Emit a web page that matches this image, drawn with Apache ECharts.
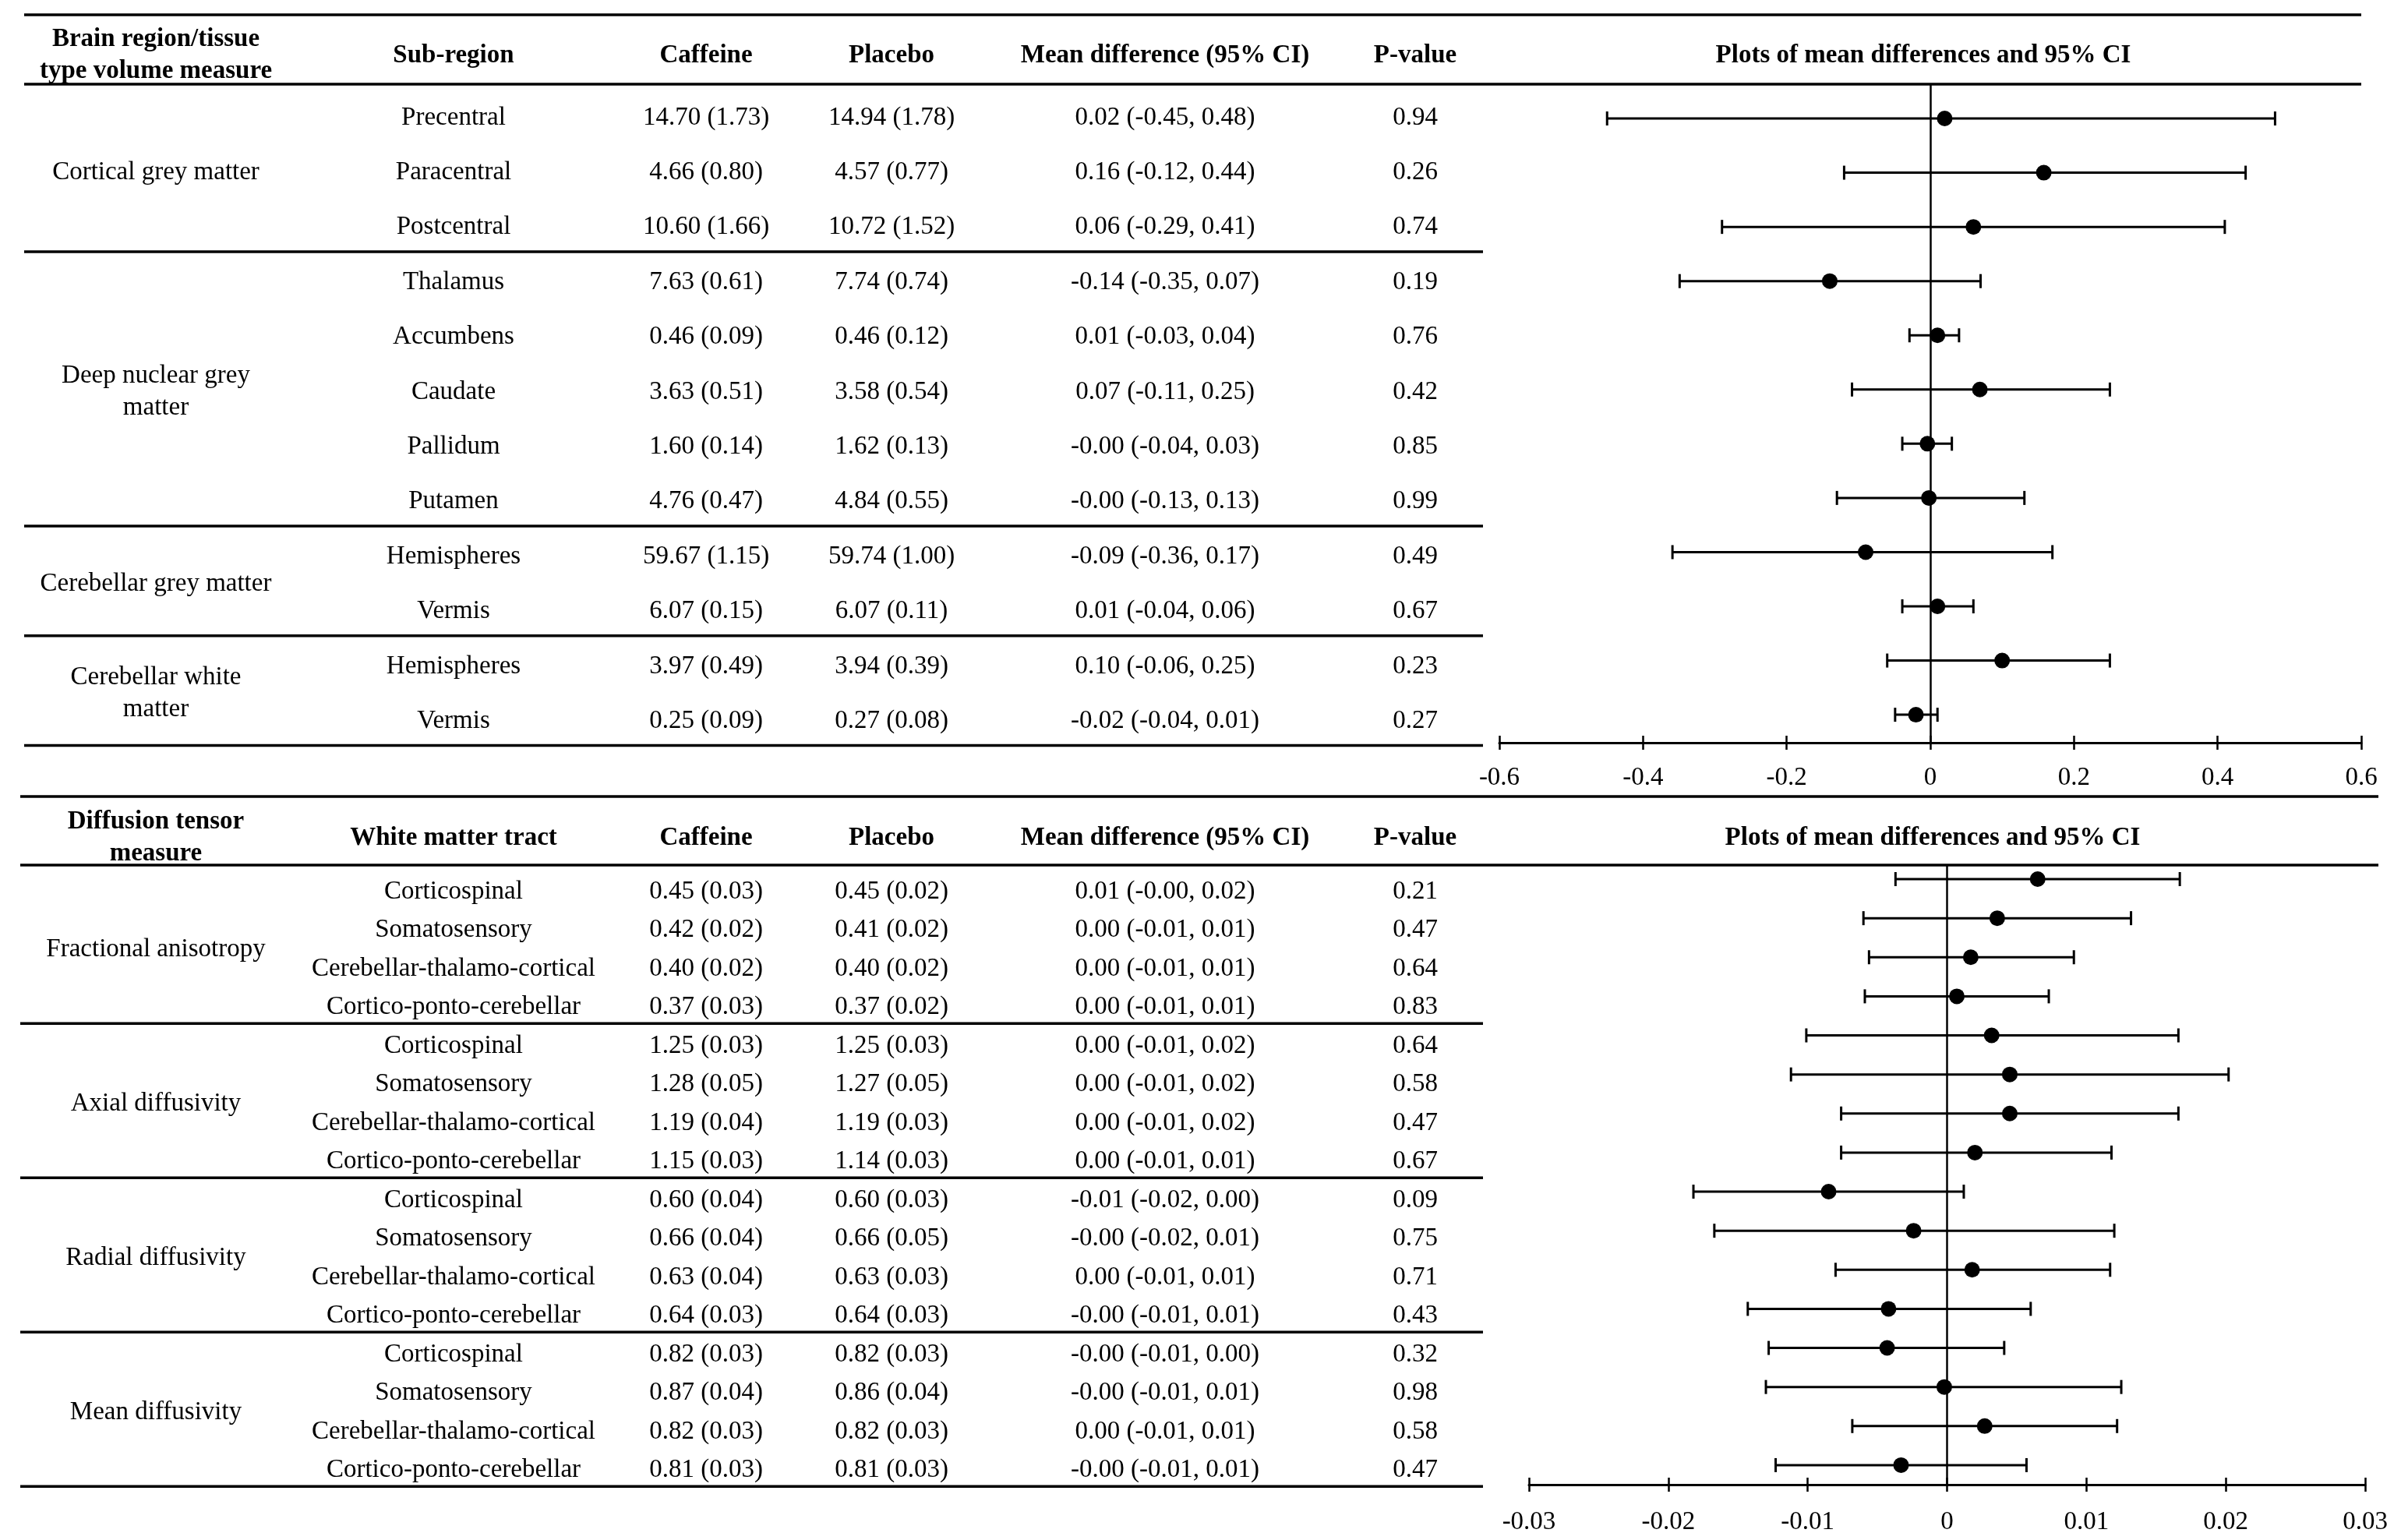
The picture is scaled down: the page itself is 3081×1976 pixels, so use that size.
<!DOCTYPE html>
<html>
<head>
<meta charset="utf-8">
<script src="https://cdn.jsdelivr.net/npm/echarts@6.0.0/dist/echarts.min.js"></script>
<style>
html,body{margin:0;padding:0;background:#ffffff;}
#c{width:3081px;height:1976px;}
</style>
</head>
<body>
<div id="c"></div>
<script>
// ---------------- Panel 1: brain volumes ----------------
const volHeader = ["Brain region/tissue\ntype volume measure", "Sub-region", "Caffeine", "Placebo", "Mean difference (95% CI)", "P-value"];
const volGroups = [
  { label: "Cortical grey matter", from: 0, to: 2 },
  { label: "Deep nuclear grey\nmatter", from: 3, to: 7 },
  { label: "Cerebellar grey matter", from: 8, to: 9 },
  { label: "Cerebellar white\nmatter", from: 10, to: 11 }
];
const volSub = ["Precentral", "Paracentral", "Postcentral", "Thalamus", "Accumbens", "Caudate", "Pallidum", "Putamen", "Hemispheres", "Vermis", "Hemispheres", "Vermis"];
const volCaffeine = ["14.70 (1.73)", "4.66 (0.80)", "10.60 (1.66)", "7.63 (0.61)", "0.46 (0.09)", "3.63 (0.51)", "1.60 (0.14)", "4.76 (0.47)", "59.67 (1.15)", "6.07 (0.15)", "3.97 (0.49)", "0.25 (0.09)"];
const volPlacebo = ["14.94 (1.78)", "4.57 (0.77)", "10.72 (1.52)", "7.74 (0.74)", "0.46 (0.12)", "3.58 (0.54)", "1.62 (0.13)", "4.84 (0.55)", "59.74 (1.00)", "6.07 (0.11)", "3.94 (0.39)", "0.27 (0.08)"];
const volMeanText = ["0.02 (-0.45, 0.48)", "0.16 (-0.12, 0.44)", "0.06 (-0.29, 0.41)", "-0.14 (-0.35, 0.07)", "0.01 (-0.03, 0.04)", "0.07 (-0.11, 0.25)", "-0.00 (-0.04, 0.03)", "-0.00 (-0.13, 0.13)", "-0.09 (-0.36, 0.17)", "0.01 (-0.04, 0.06)", "0.10 (-0.06, 0.25)", "-0.02 (-0.04, 0.01)"];
const volP = ["0.94", "0.26", "0.74", "0.19", "0.76", "0.42", "0.85", "0.99", "0.49", "0.67", "0.23", "0.27"];
// plotted values
const volMD = [0.02, 0.158, 0.06, -0.14, 0.01, 0.069, -0.004, -0.002, -0.09, 0.01, 0.10, -0.02];
const volLo = [-0.45, -0.12, -0.29, -0.349, -0.029, -0.109, -0.039, -0.13, -0.359, -0.039, -0.06, -0.049];
const volHi = [0.48, 0.439, 0.41, 0.07, 0.04, 0.25, 0.03, 0.131, 0.17, 0.06, 0.25, 0.01];
const volTicks = ["-0.6", "-0.4", "-0.2", "0", "0.2", "0.4", "0.6"];

// ---------------- Panel 2: diffusion tensor ----------------
const dtiHeader = ["Diffusion tensor\nmeasure", "White matter tract", "Caffeine", "Placebo", "Mean difference (95% CI)", "P-value"];
const dtiGroups = [
  { label: "Fractional anisotropy", from: 0, to: 3 },
  { label: "Axial diffusivity", from: 4, to: 7 },
  { label: "Radial diffusivity", from: 8, to: 11 },
  { label: "Mean diffusivity", from: 12, to: 15 }
];
const dtiTract = ["Corticospinal", "Somatosensory", "Cerebellar-thalamo-cortical", "Cortico-ponto-cerebellar",
  "Corticospinal", "Somatosensory", "Cerebellar-thalamo-cortical", "Cortico-ponto-cerebellar",
  "Corticospinal", "Somatosensory", "Cerebellar-thalamo-cortical", "Cortico-ponto-cerebellar",
  "Corticospinal", "Somatosensory", "Cerebellar-thalamo-cortical", "Cortico-ponto-cerebellar"];
const dtiCaffeine = ["0.45 (0.03)", "0.42 (0.02)", "0.40 (0.02)", "0.37 (0.03)", "1.25 (0.03)", "1.28 (0.05)", "1.19 (0.04)", "1.15 (0.03)", "0.60 (0.04)", "0.66 (0.04)", "0.63 (0.04)", "0.64 (0.03)", "0.82 (0.03)", "0.87 (0.04)", "0.82 (0.03)", "0.81 (0.03)"];
const dtiPlacebo = ["0.45 (0.02)", "0.41 (0.02)", "0.40 (0.02)", "0.37 (0.02)", "1.25 (0.03)", "1.27 (0.05)", "1.19 (0.03)", "1.14 (0.03)", "0.60 (0.03)", "0.66 (0.05)", "0.63 (0.03)", "0.64 (0.03)", "0.82 (0.03)", "0.86 (0.04)", "0.82 (0.03)", "0.81 (0.03)"];
const dtiMeanText = ["0.01 (-0.00, 0.02)", "0.00 (-0.01, 0.01)", "0.00 (-0.01, 0.01)", "0.00 (-0.01, 0.01)", "0.00 (-0.01, 0.02)", "0.00 (-0.01, 0.02)", "0.00 (-0.01, 0.02)", "0.00 (-0.01, 0.01)", "-0.01 (-0.02, 0.00)", "-0.00 (-0.02, 0.01)", "0.00 (-0.01, 0.01)", "-0.00 (-0.01, 0.01)", "-0.00 (-0.01, 0.00)", "-0.00 (-0.01, 0.01)", "0.00 (-0.01, 0.01)", "-0.00 (-0.01, 0.01)"];
const dtiP = ["0.21", "0.47", "0.64", "0.83", "0.64", "0.58", "0.47", "0.67", "0.09", "0.75", "0.71", "0.43", "0.32", "0.98", "0.58", "0.47"];
const dtiMD = [0.0065, 0.0036, 0.0017, 0.0007, 0.0032, 0.0045, 0.0045, 0.0020, -0.0085, -0.0024, 0.0018, -0.0042, -0.0043, -0.0002, 0.0027, -0.0033];
const dtiLo = [-0.0037, -0.0060, -0.0056, -0.0059, -0.0101, -0.0112, -0.0076, -0.0076, -0.0182, -0.0167, -0.0080, -0.0143, -0.0128, -0.0130, -0.0068, -0.0123];
const dtiHi = [0.0167, 0.0132, 0.0091, 0.0073, 0.0166, 0.0202, 0.0166, 0.0118, 0.0012, 0.0120, 0.0117, 0.0060, 0.0041, 0.0125, 0.0122, 0.0057];
const dtiTicks = ["-0.03", "-0.02", "-0.01", "0", "0.01", "0.02", "0.03"];

const plotTitle = "Plots of mean differences and 95% CI";

// ---------------- layout / style ----------------
const FAMILY = '"Liberation Serif", "Times New Roman", serif';
const FS = 33;
const BODY_FONT = FS + 'px ' + FAMILY;
const BOLD_FONT = 'bold ' + FS + 'px ' + FAMILY;
const COL_X = [200, 582, 906, 1144, 1495, 1816];
const W = 3081;
const DY = 4; // baseline nudge for the serif face

const chart = echarts.init(document.getElementById('c'), null, { renderer: 'canvas', width: 3081, height: 1976 });

function rowRender(cols) {
  return function (params, api) {
    const i = api.value(0);
    const children = cols.map(function (c, k) {
      const p = api.coord([COL_X[k + 1], i]);
      return { type: 'text', style: { text: c[i], x: p[0], y: p[1] + DY, align: 'center', verticalAlign: 'middle', font: BODY_FONT, fill: '#000' } };
    });
    return { type: 'group', children: children };
  };
}
function groupRender(groups, ruleL, ruleR) {
  return function (params, api) {
    const g = groups[api.value(0)];
    const pl = api.coord([COL_X[0], (g.from + g.to) / 2]);
    const ps = api.coord([ruleL, g.to + 0.5]);
    const pr = api.coord([ruleR, g.to + 0.5]);
    return { type: 'group', children: [
      { type: 'text', style: { text: g.label, x: pl[0], y: pl[1] + DY, align: 'center', verticalAlign: 'middle', font: BODY_FONT, lineHeight: 41, fill: '#000' } },
      { type: 'line', shape: { x1: ps[0], y1: ps[1], x2: pr[0], y2: pr[1] }, style: { stroke: '#000', lineWidth: 3.5 } }
    ] };
  };
}
function errRender(params, api) {
  const i = api.value(0);
  const a = api.coord([api.value(1), i]);
  const b = api.coord([api.value(2), i]);
  const h = 9;
  const st = { stroke: '#000', lineWidth: 3 };
  return { type: 'group', children: [
    { type: 'line', shape: { x1: a[0], y1: a[1], x2: b[0], y2: b[1] }, style: st },
    { type: 'line', shape: { x1: a[0], y1: a[1] - h, x2: a[0], y2: a[1] + h }, style: st },
    { type: 'line', shape: { x1: b[0], y1: b[1] - h, x2: b[0], y2: b[1] + h }, style: st }
  ] };
}

const rowIdx = function (arr) { return arr.map(function (_, i) { return [i]; }); };

function headerTexts(labels, y, titleX) {
  const out = labels.map(function (t, k) {
    return { type: 'text', x: COL_X[k], y: y + DY, style: { text: t, align: 'center', verticalAlign: 'middle', font: BOLD_FONT, lineHeight: 41, fill: '#000' } };
  });
  out.push({ type: 'text', x: titleX, y: y + DY, style: { text: plotTitle, align: 'center', verticalAlign: 'middle', font: BOLD_FONT, fill: '#000' } });
  return out;
}
function hrule(x1, x2, y) {
  return { type: 'line', shape: { x1: x1, y1: y, x2: x2, y2: y }, style: { stroke: '#000', lineWidth: 3.5 } };
}

const hiddenAxis = { show: false };
function forestX(grid, min, max, itv, labels, margin, inside) {
  return {
    gridIndex: grid, type: 'value', min: min, max: max, interval: itv, position: 'bottom', offset: 0,
    axisLine: { show: !inside, onZero: false, lineStyle: { color: '#000', width: 3 } },
    axisTick: { show: true, inside: inside, length: 9, lineStyle: { color: '#000', width: 2.5 } },
    axisLabel: { show: !inside, margin: margin, color: '#000', fontFamily: FAMILY, fontSize: FS,
      formatter: function (v, idx) { return labels[idx]; } },
    splitLine: { show: false }
  };
}

const option = {
  backgroundColor: '#ffffff',
  animation: false,
  grid: [
    { left: 0, width: W, top: 108, height: 847, outerBoundsMode: 'none' },          // 0 vol table
    { left: 1924, width: 1106, top: 108, height: 845, outerBoundsMode: 'none' },    // 1 vol forest
    { left: 0, width: W, top: 1110, height: 796, outerBoundsMode: 'none' },         // 2 dti table
    { left: 1962, width: 1073, top: 1110, height: 795, outerBoundsMode: 'none' }    // 3 dti forest
  ],
  xAxis: [
    Object.assign({ gridIndex: 0, type: 'value', min: 0, max: W }, hiddenAxis),
    forestX(1, -0.6, 0.6, 0.2, volTicks, 29, false),
    forestX(1, -0.6, 0.6, 0.2, volTicks, 29, true),
    Object.assign({ gridIndex: 2, type: 'value', min: 0, max: W }, hiddenAxis),
    forestX(3, -0.03, 0.03, 0.01, dtiTicks, 32, false),
    forestX(3, -0.03, 0.03, 0.01, dtiTicks, 32, true)
  ],
  yAxis: [
    Object.assign({ gridIndex: 0, type: 'value', inverse: true, min: -0.554, max: 11.477 }, hiddenAxis),
    Object.assign({ gridIndex: 1, type: 'value', inverse: true, min: -0.633, max: 11.516 }, hiddenAxis),
    Object.assign({ gridIndex: 2, type: 'value', inverse: true, min: -0.606, max: 15.475 }, hiddenAxis),
    Object.assign({ gridIndex: 3, type: 'value', inverse: true, min: -0.359, max: 15.5 }, hiddenAxis)
  ],
  graphic: [].concat(
    headerTexts(volHeader, 67, 2468),
    headerTexts(dtiHeader, 1071, 2480),
    [hrule(31, 3030, 19), hrule(31, 3030, 108), hrule(26, 3052, 1022), hrule(26, 3052, 1110)]
  ),
  series: [
    { type: 'custom', xAxisIndex: 0, yAxisIndex: 0, data: rowIdx(volSub), renderItem: rowRender([volSub, volCaffeine, volPlacebo, volMeanText, volP]), silent: true },
    { type: 'custom', xAxisIndex: 0, yAxisIndex: 0, data: rowIdx(volGroups), renderItem: groupRender(volGroups, 31, 1903), silent: true },
    { type: 'custom', xAxisIndex: 3, yAxisIndex: 2, data: rowIdx(dtiTract), renderItem: rowRender([dtiTract, dtiCaffeine, dtiPlacebo, dtiMeanText, dtiP]), silent: true },
    { type: 'custom', xAxisIndex: 3, yAxisIndex: 2, data: rowIdx(dtiGroups), renderItem: groupRender(dtiGroups, 26, 1903), silent: true },
    {
      type: 'custom', xAxisIndex: 1, yAxisIndex: 1, silent: true, z: 3,
      data: volMD.map(function (_, i) { return [i, volLo[i], volHi[i]]; }),
      renderItem: errRender,
      markLine: { silent: true, symbol: 'none', label: { show: false }, lineStyle: { color: '#000', width: 2.5, type: 'solid' }, data: [{ xAxis: 0 }] }
    },
    {
      type: 'scatter', xAxisIndex: 1, yAxisIndex: 1, silent: true, z: 4,
      symbol: 'circle', symbolSize: 20, itemStyle: { color: '#000', opacity: 1 },
      data: volMD.map(function (v, i) { return [v, i]; })
    },
    {
      type: 'custom', xAxisIndex: 4, yAxisIndex: 3, silent: true, z: 3,
      data: dtiMD.map(function (_, i) { return [i, dtiLo[i], dtiHi[i]]; }),
      renderItem: errRender,
      markLine: { silent: true, symbol: 'none', label: { show: false }, lineStyle: { color: '#000', width: 2.5, type: 'solid' }, data: [{ xAxis: 0 }] }
    },
    {
      type: 'scatter', xAxisIndex: 4, yAxisIndex: 3, silent: true, z: 4,
      symbol: 'circle', symbolSize: 20, itemStyle: { color: '#000', opacity: 1 },
      data: dtiMD.map(function (v, i) { return [v, i]; })
    }
  ]
};
chart.setOption(option);
</script>
</body>
</html>
